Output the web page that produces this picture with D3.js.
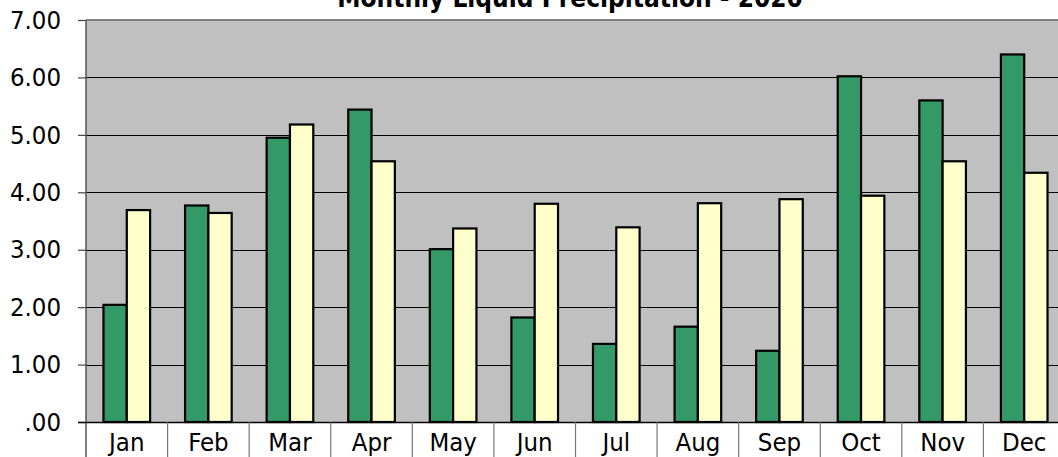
<!DOCTYPE html>
<html><head><meta charset="utf-8">
<script src="https://cdn.jsdelivr.net/npm/d3@7"></script>
<style>
html,body{margin:0;padding:0;background:#fff;overflow:hidden}
svg{display:block}
text{font-family:"DejaVu Sans Condensed","DejaVu Sans",sans-serif;font-stretch:condensed}
</style></head>
<body>
<script>
const months = ["Jan","Feb","Mar","Apr","May","Jun","Jul","Aug","Sep","Oct","Nov","Dec"];
const precip2020 = [2.04,3.77,4.95,5.44,3.01,1.82,1.36,1.66,1.24,6.02,5.60,6.40];
const precipNormal = [3.69,3.64,5.18,4.54,3.37,3.80,3.39,3.81,3.88,3.94,4.54,4.34];
const yTicks = [0,1,2,3,4,5,6,7];
const title = "Monthly Liquid Precipitation - 2020";

const W = 1058, H = 457;
const pLeft = 86, pRight = 1065, pTop = 20, pBottom = 422;

const svg = d3.select("body").append("svg").attr("width", W).attr("height", H);

const x = d3.scaleBand().domain(months).range([pLeft, pRight]).paddingInner(0).paddingOuter(0);
const y = d3.scaleLinear().domain([0, 7]).range([pBottom, pTop]);

// plot background
svg.append("rect").attr("x", pLeft).attr("y", pTop).attr("width", pRight - pLeft).attr("height", pBottom - pTop).attr("fill", "#c0c0c0");

// gridlines
svg.append("g").selectAll("line").data(yTicks.filter(d => d > 0 && d < 7)).join("line")
  .attr("x1", pLeft).attr("x2", pRight)
  .attr("y1", d => Math.round(y(d)) + 0.5).attr("y2", d => Math.round(y(d)) + 0.5)
  .attr("stroke", "#000").attr("stroke-width", 1);

// top border
svg.append("line").attr("x1", pLeft).attr("x2", pRight).attr("y1", pTop).attr("y2", pTop)
  .attr("stroke", "#808080").attr("stroke-width", 2);

// bars
const bw = x.bandwidth() / 3.5;
const series = [
  {vals: precip2020, color: "#339966", off: -1},
  {vals: precipNormal, color: "#ffffcc", off: 0}
];
series.forEach(s => {
  svg.append("g").selectAll("rect").data(months).join("rect")
    .attr("x", (m) => x(m) + x.bandwidth() / 2 + s.off * bw)
    .attr("y", (m, i) => y(s.vals[i]))
    .attr("width", bw)
    .attr("height", (m, i) => y(0) - y(s.vals[i]))
    .attr("fill", s.color)
    .attr("stroke", "#000").attr("stroke-width", 2.2).attr("stroke-linejoin", "miter");
});

// y axis
const yAxis = d3.axisLeft(y).tickValues(yTicks).tickSize(8).tickPadding(17)
  .tickFormat(d => d === 0 ? ".00" : d3.format(".2f")(d));
const gy = svg.append("g").attr("transform", `translate(${pLeft},0)`).call(yAxis);
gy.attr("font-family", null).attr("font-size", null);
gy.select(".domain").remove();
gy.selectAll(".tick line").attr("stroke", "#444").attr("stroke-width", 1.2);
gy.selectAll(".tick text").attr("font-size", 25.5).attr("fill", "#000");
// left axis line extends down
svg.append("line").attr("x1", pLeft).attr("x2", pLeft).attr("y1", pTop).attr("y2", H)
  .attr("stroke", "#555").attr("stroke-width", 1.5);

// x axis baseline
svg.append("line").attr("x1", pLeft - 8).attr("x2", pRight).attr("y1", pBottom + 0.5).attr("y2", pBottom + 0.5)
  .attr("stroke", "#000").attr("stroke-width", 1.5);

// category dividers
svg.append("g").selectAll("line").data(months.slice(1)).join("line")
  .attr("x1", m => x(m)).attr("x2", m => x(m))
  .attr("y1", pBottom).attr("y2", H)
  .attr("stroke", "#777").attr("stroke-width", 1.2);

// x labels
svg.append("g").selectAll("text").data(months).join("text")
  .attr("x", m => x(m) + x.bandwidth() / 2)
  .attr("y", 451)
  .attr("text-anchor", "middle").attr("font-size", 25.5).attr("fill", "#000")
  .text(m => m);

// title
svg.append("text").attr("x", 570).attr("y", 7).attr("text-anchor", "middle")
  .attr("font-size", 26).attr("font-weight", "bold").attr("fill", "#000").text(title);
</script>
</body></html>
